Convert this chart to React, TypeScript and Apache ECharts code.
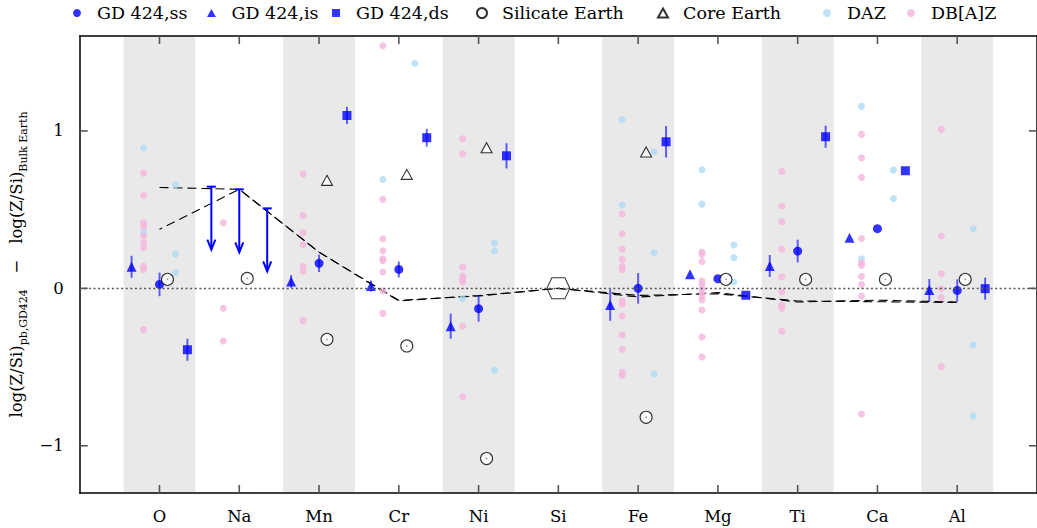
import React, { useEffect, useRef } from 'react';
import * as echarts from 'echarts';

// ---------- data ----------
const elements = ['O', 'Na', 'Mn', 'Cr', 'Ni', 'Si', 'Fe', 'Mg', 'Ti', 'Ca', 'Al'];
const yTickValues = [-1, 0, 1];

// GD 424 (null = not measured / upper limit)
const ssValues = [0.025, null, 0.159, 0.12, -0.129, null, 0.0, 0.061, 0.237, 0.379, -0.013];
const ssErrors = [0.075, null, 0.055, 0.05, 0.083, null, 0.097, null, 0.072, null, 0.07];
const isValues = [0.137, null, 0.044, 0.015, -0.24, null, -0.106, 0.089, 0.142, 0.322, -0.011];
const isErrors = [0.07, null, 0.04, 0.035, 0.08, null, 0.1, null, 0.07, null, 0.07];
const dsValues = [-0.39, null, 1.098, 0.957, 0.842, null, 0.931, -0.044, 0.963, 0.747, -0.002];
const dsErrors = [0.07, null, 0.055, 0.057, 0.08, null, 0.1, null, 0.07, null, 0.07];

// upper limits (Na)
const ssUpper = [null, 0.629, null, null, null, null, null, null, null, null, null];
const isUpper = [null, 0.646, null, null, null, null, null, null, null, null, null];
const dsUpper = [null, 0.508, null, null, null, null, null, null, null, null, null];

const silicateEarth = [0.057, 0.063, -0.324, -0.366, -1.081, null, -0.819, 0.057, 0.057, 0.057, 0.057];
const coreEarth = [null, null, 0.686, 0.724, 0.893, null, 0.866, null, null, null, null];
const siReference = [null, null, null, null, null, 0, null, null, null, null, null];

// model curves
const modelA = [0.641, 0.629, 0.23, -0.076, -0.049, 0, -0.055, -0.027, -0.087, -0.075, -0.087];
const modelB = [0.375, 0.629, 0.23, -0.08, -0.045, 0, -0.045, -0.035, -0.08, -0.085, -0.09];

// DAZ (two columns) and DB[A]Z comparison stars
const dazLeft = [
  [0.893, 0.357], [], [], [0.692], [-0.065], [], [1.071, 0.529], [0.753, 0.535], [], [1.156, 0.188], [],
];
const dazRight = [
  [0.656, 0.218, 0.1], [], [], [1.43], [0.288, 0.237, -0.521], [], [0.868, 0.226, -0.542],
  [0.275, 0.195, 0.04], [], [0.751, 0.57], [0.379, -0.358, -0.811],
];
const dbzValues = [
  [0.732, 0.59, 0.417, 0.392, 0.332, 0.29, 0.26, 0.14, 0.12, -0.262],
  [0.417, -0.127, -0.334],
  [0.726, 0.463, 0.353, 0.279, 0.138, 0.11, -0.205],
  [1.541, 0.565, 0.315, 0.239, 0.188, 0.175, 0.104, -0.017, -0.159],
  [0.95, 0.855, 0.135, 0.078, 0.057, 0.04, -0.239, -0.688],
  [],
  [0.474, 0.347, 0.248, 0.184, 0.138, 0.12, -0.08, -0.1, -0.176, -0.296, -0.387, -0.531, -0.552],
  [0.231, 0.216, 0.171, 0.046, 0.025, -0.006, -0.028, -0.049, -0.074, -0.138, -0.309, -0.436],
  [0.743, 0.523, 0.425, 0.248, 0.074, -0.023, -0.106, -0.127, -0.273],
  [0.978, 0.83, 0.705, 0.317, 0.163, 0.146, 0.076, 0.025, -0.049, -0.798],
  [1.01, 0.332, 0.093, -0.002, -0.059, -0.497],
];

// ---------- layout / style constants ----------
const X_MIN = -1;
const X_MAX = 11;
const Y_MIN = -1.3;
const Y_MAX = 1.603;
const OFF = { is: -0.35, ss: 0, ds: 0.35, earth: 0.1, dbz: -0.2, dazL: -0.2, dazR: 0.2, band: 0.45 };
const ARROW_LEN = 0.4;
const TICK_LEN = 8;
const FONT = 'DejaVu Serif';
const BLUE = '#0000ff';
const ERR_BLUE = 'rgba(0,0,255,0.6)';
const DAZ_COLOR = '#b0dbf5';
const DBZ_COLOR = '#f5b5dc';
const TICK_COLOR = '#555';

const pts = (vals: (number | null)[], off: number) =>
  vals.map((v, i) => (v === null ? null : [i + off, v])).filter((d) => d !== null) as number[][];
const ptsErr = (vals: (number | null)[], errs: (number | null)[], off: number) =>
  vals
    .map((v, i) => (v === null || errs[i] === null ? null : [i + off, v, errs[i] as number]))
    .filter((d) => d !== null) as number[][];
const multiPts = (lists: number[][], off: number) =>
  lists.flatMap((list, i) => list.map((v) => [i + off, v]));

const TRI_PATH = 'path://M5,0 L10,9 L0,9 Z';
const RECT_PATH = 'path://M0,0 L10,0 L10,10 L0,10 Z';
const HEX_PATH = 'path://M0,10.5 L5,0 L18,0 L23,10.5 L18,21 L5,21 Z';

export default function App() {
  const ref = useRef<HTMLDivElement>(null);

  useEffect(() => {
    if (!ref.current) return;
    const chart = echarts.init(ref.current, undefined, { renderer: 'svg' });

    const bandData = elements.map((_, i) => i).filter((i) => i % 2 === 0).map((i) => [i, 0]);
    const errData = [
      ...ptsErr(ssValues, ssErrors, OFF.ss),
      ...ptsErr(isValues, isErrors, OFF.is),
      ...ptsErr(dsValues, dsErrors, OFF.ds),
    ];
    const upperData = [...pts(isUpper, OFF.is), ...pts(ssUpper, OFF.ss), ...pts(dsUpper, OFF.ds)];

    const legendBase = {
      top: 4,
      padding: 0,
      itemWidth: 30,
      itemHeight: 8,
      selectedMode: false,
      textStyle: { fontFamily: FONT, fontSize: 17.5, color: '#000' },
    };
    const legendDefs: [string, number, string, number][] = [
      ['GD 424,ss', 88, 'circle', 8],
      ['GD 424,is', 222, TRI_PATH, 8],
      ['GD 424,ds', 347, RECT_PATH, 8],
      ['Silicate Earth', 491, 'circle', 10],
      ['Core Earth', 672, TRI_PATH, 9],
      ['DAZ', 838, 'circle', 8],
      ['DB[A]Z', 922, 'circle', 8],
    ];

    const xTickValues = elements.map((_, i) => i);

    const option: any = {
      animation: false,
      backgroundColor: '#fff',
      legend: legendDefs.map(([name, cx, icon, size]) => ({
        ...legendBase,
        left: cx - 15,
        itemHeight: size,
        data: [{ name, icon }],
      })),
      grid: { left: 79, right: -2, top: 36, bottom: 35 },
      xAxis: [
        {
          type: 'value',
          min: X_MIN,
          max: X_MAX,
          position: 'bottom',
          axisLine: { show: true, onZero: false, lineStyle: { color: '#000', width: 1.5 } },
          axisTick: { show: false },
          axisLabel: {
            customValues: xTickValues,
            formatter: (v: number) => elements[Math.round(v)] ?? '',
            fontFamily: FONT,
            fontSize: 16.5,
            color: '#000',
            margin: 15,
          },
          splitLine: { show: false },
        },
        {
          type: 'value',
          min: X_MIN,
          max: X_MAX,
          position: 'top',
          axisLine: { show: true, onZero: false, lineStyle: { color: '#000', width: 1.5 } },
          axisTick: { show: false },
          axisLabel: { show: false },
          splitLine: { show: false },
        },
      ],
      yAxis: [
        {
          type: 'value',
          min: Y_MIN,
          max: Y_MAX,
          position: 'left',
          axisLine: { show: true, onZero: false, lineStyle: { color: '#000', width: 1.5 } },
          axisTick: { show: false },
          axisLabel: {
            customValues: yTickValues,
            formatter: (v: number) => (v < 0 ? '\u2212' + Math.abs(v) : String(v)),
            fontFamily: FONT,
            fontSize: 16.5,
            color: '#000',
            margin: 16,
          },
          splitLine: { show: false },
          name: '{m|log(Z/Si)}{s|pb,GD424}{m|   \u2212   log(Z/Si)}{s|Bulk Earth}',
          nameLocation: 'middle',
          nameRotate: 90,
          nameGap: 44,
          nameTextStyle: {
            fontFamily: FONT,
            color: '#000',
            rich: {
              m: { fontFamily: FONT, fontSize: 16.5, lineHeight: 24, verticalAlign: 'middle', color: '#000' },
              s: { fontFamily: FONT, fontSize: 11, lineHeight: 12, verticalAlign: 'bottom', color: '#000' },
            },
          },
        },
        {
          type: 'value',
          min: Y_MIN,
          max: Y_MAX,
          position: 'right',
          axisLine: { show: true, onZero: false, lineStyle: { color: '#000', width: 1.5 } },
          axisTick: { show: false },
          axisLabel: { show: false },
          splitLine: { show: false },
        },
      ],
      series: [
        {
          name: 'bands',
          type: 'custom',
          z: 0,
          silent: true,
          data: bandData,
          encode: { x: 0, y: 1 },
          renderItem: (params: any, api: any) => {
            const i = api.value(0);
            const a = api.coord([i - OFF.band, Y_MAX]);
            const b = api.coord([i + OFF.band, Y_MIN]);
            return {
              type: 'rect',
              shape: { x: a[0], y: a[1], width: b[0] - a[0], height: b[1] - a[1] },
              style: { fill: '#e9e9e9' },
            };
          },
          markLine: {
            silent: true,
            symbol: 'none',
            label: { show: false },
            lineStyle: { color: '#555', width: 1.4, type: [2, 2.6] },
            data: [{ yAxis: 0 }],
          },
        },
        {
          name: 'model A',
          type: 'line',
          z: 1,
          symbol: 'none',
          data: modelA.map((v, i) => [i, v]),
          lineStyle: { color: '#000', width: 1.1, type: [9, 5] },
        },
        {
          name: 'model B',
          type: 'line',
          z: 1,
          symbol: 'none',
          data: modelB.map((v, i) => [i, v]),
          lineStyle: { color: '#000', width: 1.1, type: [9, 5], dashOffset: 6 },
        },
        {
          name: 'DAZ',
          type: 'scatter',
          z: 2,
          symbol: 'circle',
          symbolSize: 7,
          itemStyle: { color: DAZ_COLOR },
          data: [...multiPts(dazLeft, OFF.dazL), ...multiPts(dazRight, OFF.dazR)],
        },
        {
          name: 'DB[A]Z',
          type: 'scatter',
          z: 2,
          symbol: 'circle',
          symbolSize: 7,
          itemStyle: { color: DBZ_COLOR },
          data: multiPts(dbzValues, OFF.dbz),
        },
        {
          name: 'errors',
          type: 'custom',
          z: 3,
          silent: true,
          data: errData,
          encode: { x: 0, y: 1 },
          renderItem: (params: any, api: any) => {
            const x = api.value(0);
            const y = api.value(1);
            const e = api.value(2);
            const p1 = api.coord([x, y + e]);
            const p2 = api.coord([x, y - e]);
            return {
              type: 'line',
              shape: { x1: p1[0], y1: p1[1], x2: p2[0], y2: p2[1] },
              style: { stroke: ERR_BLUE, lineWidth: 2 },
            };
          },
        },
        {
          name: 'GD 424,ss',
          type: 'scatter',
          z: 4,
          symbol: 'circle',
          symbolSize: 9,
          itemStyle: { color: BLUE },
          data: pts(ssValues, OFF.ss),
        },
        {
          name: 'GD 424,is',
          type: 'scatter',
          z: 4,
          symbol: 'triangle',
          symbolSize: 10,
          itemStyle: { color: BLUE },
          data: pts(isValues, OFF.is),
        },
        {
          name: 'GD 424,ds',
          type: 'scatter',
          z: 4,
          symbol: 'rect',
          symbolSize: 9,
          itemStyle: { color: BLUE },
          data: pts(dsValues, OFF.ds),
        },
        {
          name: 'upper limits',
          type: 'custom',
          z: 4,
          silent: true,
          data: upperData,
          encode: { x: 0, y: 1 },
          renderItem: (params: any, api: any) => {
            const x = api.value(0);
            const y = api.value(1);
            const top = api.coord([x, y]);
            const bot = api.coord([x, y - ARROW_LEN]);
            const st = { stroke: BLUE, lineWidth: 2, fill: 'none' };
            return {
              type: 'group',
              children: [
                { type: 'line', shape: { x1: top[0], y1: top[1], x2: bot[0], y2: bot[1] }, style: st },
                { type: 'line', shape: { x1: top[0] - 4.5, y1: top[1], x2: top[0] + 4.5, y2: top[1] }, style: st },
                {
                  type: 'polyline',
                  shape: { points: [[bot[0] - 4, bot[1] - 10], [bot[0], bot[1]], [bot[0] + 4, bot[1] - 10]] },
                  style: st,
                },
              ],
            };
          },
        },
        {
          name: 'Silicate Earth',
          type: 'scatter',
          z: 5,
          symbol: 'circle',
          symbolSize: 12,
          itemStyle: { color: '#fff', borderColor: '#000', borderWidth: 1.1 },
          data: pts(silicateEarth, OFF.earth),
        },
        {
          name: 'Silicate Earth centre',
          type: 'scatter',
          z: 6,
          silent: true,
          symbol: 'circle',
          symbolSize: 1.6,
          itemStyle: { color: '#777' },
          data: pts(silicateEarth, OFF.earth),
        },
        {
          name: 'Core Earth',
          type: 'scatter',
          z: 5,
          symbol: TRI_PATH,
          symbolSize: [11, 10],
          itemStyle: { color: '#fff', borderColor: '#000', borderWidth: 1.1 },
          data: pts(coreEarth, OFF.earth),
        },
        {
          name: 'Si reference',
          type: 'scatter',
          z: 5,
          symbol: HEX_PATH,
          symbolSize: [23, 21],
          itemStyle: { color: 'rgba(0,0,0,0)', borderColor: '#000', borderWidth: 1 },
          data: pts(siReference, 0),
        },
      ],
    };

    chart.setOption(option);

    // inward tick marks on all four sides, positioned through the chart's own scales
    const toPx = (x: number, y: number) => chart.convertToPixel({ gridIndex: 0 }, [x, y]) as number[];
    const tickLine = (x1: number, y1: number, x2: number, y2: number) => ({
      type: 'line',
      silent: true,
      z: 100,
      shape: { x1, y1, x2, y2 },
      style: { stroke: TICK_COLOR, lineWidth: 1.6 },
    });
    const ticks: any[] = [];
    xTickValues.forEach((v) => {
      const b = toPx(v, Y_MIN);
      const t = toPx(v, Y_MAX);
      ticks.push(tickLine(b[0], b[1], b[0], b[1] - TICK_LEN));
      ticks.push(tickLine(t[0], t[1], t[0], t[1] + TICK_LEN));
    });
    yTickValues.forEach((v) => {
      const l = toPx(X_MIN, v);
      const r = toPx(X_MAX, v);
      ticks.push(tickLine(l[0], l[1], l[0] + TICK_LEN, l[1]));
      ticks.push(tickLine(r[0], r[1], r[0] - TICK_LEN, r[1]));
    });
    chart.setOption({ graphic: { elements: ticks } });

    return () => chart.dispose();
  }, []);

  return (
    <div
      ref={ref}
      style={{ position: 'fixed', left: 0, top: 0, width: '1037px', height: '528px', background: '#fff' }}
    />
  );
}
